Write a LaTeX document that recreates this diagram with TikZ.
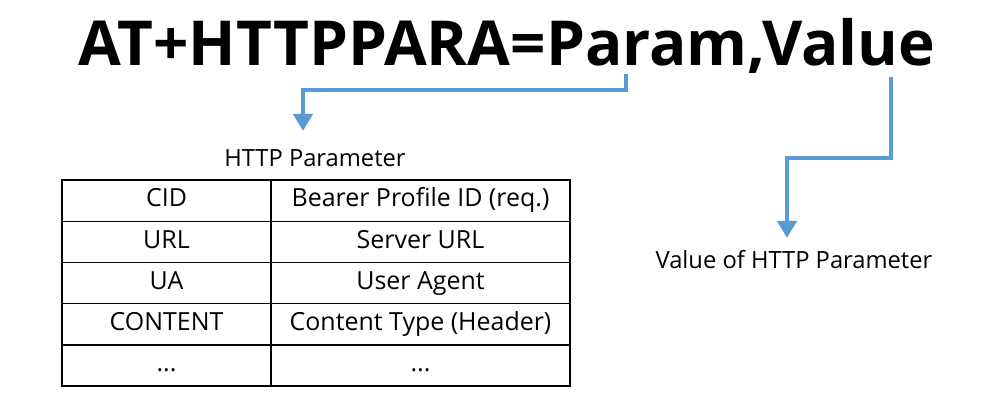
\documentclass[tikz,border=0pt]{standalone}
\usepackage{fontspec}
\setmainfont{Open Sans}
\usetikzlibrary{arrows.meta,positioning}
\definecolor{SetaAzul}{RGB}{91,155,213}
\tikzset{
  titulo/.style={font=\fontsize{35.3}{42}\selectfont\bfseries, inner sep=0pt},
  rotulo/.style={font=\fontsize{13.5}{16}\selectfont, inner sep=0pt},
  celula/.style={draw=black, line width=0.8pt, font=\fontsize{14.2}{17}\selectfont,
                 minimum height=8.24mm, inner sep=0pt, text height=0.72em, text depth=0em},
  seta/.style={-{Triangle[length=9.7pt, width=10.8pt]}, line width=2.8pt, SetaAzul},
}

\begin{document}
\begin{tikzpicture}[x=0.2mm, y=-0.2mm]
  \useasboundingbox (0,0) rectangle (1000,400);

  % Comando AT
  \node[titulo, anchor=base] (cmd) at (507,65) {AT+HTTPPARA=Param,Value};

  % Tabela de parametros
  \node[rotulo] (cab) at (315,158) {HTTP Parameter};
  \foreach \i/\chave/\desc in {0/CID/{Bearer Profile ID (req.)}, 1/URL/{Server URL},
      2/UA/{User Agent}, 3/CONTENT/{Content Type (Header)}, 4/{...}/{...}}{
    \node[celula, minimum width=41.8mm] (k\i) at (166.5,{200.6+41.2*\i}) {\chave};
    \node[celula, minimum width=59.8mm] (v\i) at (420.5,{200.6+41.2*\i}) {\desc};
  }

  \node[rotulo] (val) at (794,260) {Value of HTTP Parameter};

  % Setas
  \coordinate (pini) at (626,74);
  \coordinate (pfim) at (303,131);
  \coordinate (vini) at (891,77);
  \coordinate (vfim) at (787,238);
  \draw[seta] (pini) -- ++(0,16) -| (pfim);
  \draw[seta] (vini) -- ++(0,81) -| (vfim);
\end{tikzpicture}
\end{document}
